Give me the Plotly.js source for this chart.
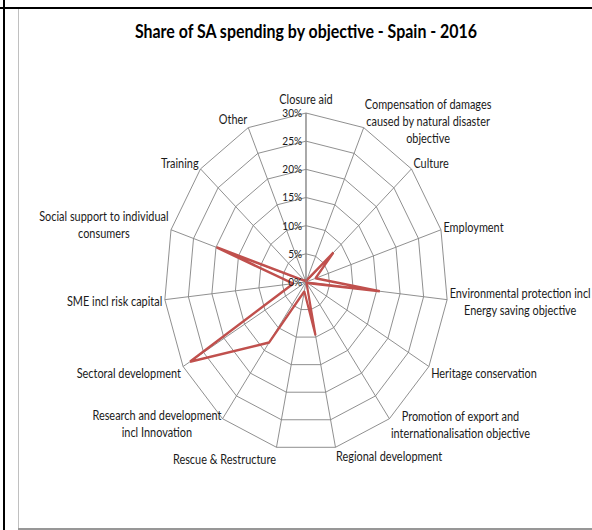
<!DOCTYPE html>
<html>
<head>
<meta charset="utf-8">
<script src="https://cdn.plot.ly/plotly-3.0.1.min.js"></script>
<style>
html,body{margin:0;padding:0;background:#fff;}
#wrap{position:relative;width:592px;height:530px;overflow:hidden;background:#fff;}
#chart{position:absolute;left:0;top:0;width:705px;height:530px;transform:scaleX(0.8397);transform-origin:0 0;}
.bd{position:absolute;z-index:5;}
</style>
</head>
<body>
<div id="wrap">
  <div id="chart"></div>
  <div class="bd" style="left:0;top:7px;width:592px;height:2px;background:#000;"></div>
  <div class="bd" style="left:3px;top:0;width:2px;height:530px;background:#000;"></div>
  <div class="bd" style="left:18px;top:9px;width:1px;height:520px;background:#c0c0c0;"></div>
  <div class="bd" style="left:18px;top:528px;width:574px;height:2px;background:#979797;"></div>
</div>
<script>
const categories = [
  "Closure aid",
  "Compensation of damages<br>caused by natural disaster<br>objective",
  "Culture",
  "Employment",
  "Environmental protection incl<br>Energy saving objective",
  "Heritage conservation",
  "Promotion of export and<br>internationalisation objective",
  "Regional development",
  "Rescue & Restructure",
  "Research and development<br>incl Innovation",
  "Sectoral development",
  "SME incl risk capital",
  "Social support to individual<br>consumers",
  "Training",
  "Other"
];
const shareValues = [0.1, 0.3, 7.8, 2.1, 15.7, 0.3, 0.2, 9.7, 1.7, 13.3, 28.3, 2.7, 19.9, 0.3, 0.5];
const radialTicks = [0, 5, 10, 15, 20, 25, 30];
const radialTickLabels = ["0%", "5%", "10%", "15%", "20%", "25%", "30%"];

const theta = categories.concat([categories[0]]);
const r = shareValues.concat([shareValues[0]]);

const font = "Lato, 'Open Sans', sans-serif";
const W = 705, H = 530;
const cx = 364.4, cy = 282, R = 169;

// vertical nudges (px) of category labels, to place them as in the original chart
const labelNudge = {
  "Closure aid": -3,
  "Compensation of damagescaused by natural disasterobjective": 17,
  "Promotion of export andinternationalisation objective": -12,
  "Regional development": -3,
  "Research and developmentincl Innovation": -13
};

const trace = {
  type: "scatterpolar",
  mode: "lines",
  theta: theta,
  r: r,
  line: {color: "#C0504D", width: 2.6},
  hoverinfo: "skip",
  showlegend: false
};

const layout = {
  width: W, height: H,
  margin: {l: 0, r: 0, t: 0, b: 0},
  paper_bgcolor: "rgba(0,0,0,0)",
  plot_bgcolor: "rgba(0,0,0,0)",
  font: {family: font, size: 13, color: "#1a1a1a"},
  title: {
    text: "<b>Share of SA spending by objective - Spain - 2016</b>",
    font: {family: font, size: 19, color: "#000"},
    x: cx / W, xanchor: "center", xref: "paper",
    y: 1 - 31 / H, yanchor: "middle", yref: "paper"
  },
  polar: {
    domain: {x: [(cx - R) / W, (cx + R) / W], y: [1 - (cy + R) / H, 1 - (cy - R) / H]},
    bgcolor: "rgba(0,0,0,0)",
    gridshape: "linear",
    radialaxis: {
      range: [0, 30],
      tickvals: radialTicks,
      ticktext: radialTickLabels,
      angle: 90,
      side: "counterclockwise",
      tickangle: 90,
      showline: true,
      linecolor: "#868686",
      linewidth: 1,
      gridcolor: "#868686",
      gridwidth: 1,
      ticks: "",
      tickfont: {family: font, size: 12, color: "#1a1a1a"}
    },
    angularaxis: {
      type: "category",
      categoryarray: categories,
      direction: "clockwise",
      rotation: 90,
      showline: true,
      linecolor: "#868686",
      linewidth: 1,
      gridcolor: "#868686",
      gridwidth: 1,
      ticks: "",
      tickfont: {family: font, size: 13, color: "#1a1a1a"}
    }
  }
};

const gd = document.getElementById("chart");
Plotly.newPlot(gd, [trace], layout, {displayModeBar: false, staticPlot: true}).then(function () {
  gd.querySelectorAll("text").forEach(function (t) {
    const lines = t.querySelectorAll("tspan.line");
    if (lines.length >= 2) {
      // center-align the lines of multi-line category labels
      const bb = t.getBBox();
      const mid = bb.x + bb.width / 2;
      t.setAttribute("text-anchor", "middle");
      t.style.textAnchor = "middle";
      t.setAttribute("x", mid);
      lines.forEach(function (l) { l.setAttribute("x", mid); });
    }
    const key = t.textContent;
    if (Object.prototype.hasOwnProperty.call(labelNudge, key)) {
      const d = labelNudge[key];
      const y0 = parseFloat(t.getAttribute("y") || "0");
      t.setAttribute("y", y0 + d);
      lines.forEach(function (l) {
        const ly = l.getAttribute("y");
        if (ly !== null) l.setAttribute("y", parseFloat(ly) + d);
      });
    }
  });
});
</script>
</body>
</html>
